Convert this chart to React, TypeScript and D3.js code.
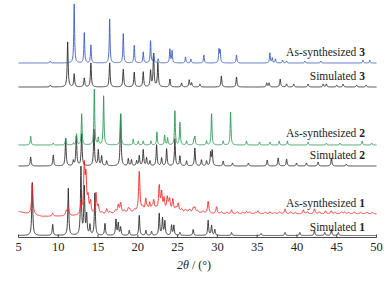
import React from "react";
import * as d3 from "d3";

// 2θ axis
const xTicks = [5, 10, 15, 20, 25, 30, 35, 40, 45, 50];

// peak lists: [2θ, intensity]
const sim1Peaks = [[6.73,54],[9.3,11],[11.26,47],[12.85,69],[13.27,48],[13.57,20],[13.98,10],[14.6,42],[15.87,12],[17.25,16],[17.54,12],[17.84,8],[18.92,5],[20.18,20],[21.02,5],[21.73,4],[22.69,22],[23.1,17],[23.4,14],[24.24,10],[24.53,10],[25.29,3],[26.96,6],[28.84,15],[29.27,10],[29.68,6],[31.78,3],[35.5,2],[38.5,3],[40.36,3],[42.2,5],[43.5,3],[44.34,6],[45.2,3]];
const as1Peaks = [[6.73,30],[9.3,3],[11.0,5],[11.26,8],[12.85,10],[13.27,47],[13.48,35],[13.75,15],[14.05,12],[14.74,21],[15.03,8],[16.08,5],[17.54,8],[17.84,10],[18.8,4],[20.18,40],[21.0,12],[21.5,8],[22.0,10],[22.69,25],[22.99,18],[23.3,12],[23.7,13],[24.0,10],[24.4,12],[25.08,8],[26.96,4],[27.17,5],[28.84,12],[29.9,7],[31.78,4],[33.66,2],[35.1,3],[36.6,2],[38.5,5],[40.8,4],[42.2,5],[43.6,3],[44.3,3],[46,2]];
const as1Minor = [[15.5,2],[16.5,2.5],[17.2,3],[18.3,2.5],[19.0,3],[19.6,2.5],[20.6,4],[21.2,3],[21.8,4],[22.3,3],[23.9,3],[24.8,4],[25.5,3],[26.0,2.5],[26.5,3],[27.5,2],[28.2,2],[30.5,2],[31.2,1.5],[32.5,2],[33.2,1.5],[34.0,2],[34.8,1.5],[36.0,2],[37.2,1.5],[37.8,2],[39.2,2],[39.8,1.5],[41.3,2],[42.8,2],[44.8,1.5],[45.6,2],[46.5,1.5],[47.2,2],[48.0,1.5],[48.8,2],[49.5,1.5]];
const as1Background = [[5,3.5],[6,1.5],[8,-1.5],[12,-1],[15,0],[20,2.5],[26,2.5],[30,1],[50,1]];
const sim2Peaks = [[6.53,9],[9.37,11],[10.93,28],[11.9,5],[12.27,30],[12.94,32],[14.49,37],[15.03,16],[15.45,10],[16.08,5],[17.84,52],[18.8,7],[19.2,6],[19.85,5],[20.18,10],[20.68,16],[21.1,8],[21.52,5],[22.36,21],[22.99,8],[23.62,17],[24.66,27],[25.29,10],[26.13,5],[27.17,18],[28.0,6],[28.64,5],[29.15,13],[29.35,15],[30.73,5],[31.9,3],[33.9,3],[36.26,6],[37.64,8],[38.7,7],[39.95,3],[41.2,3],[42.66,4],[44.34,8],[46.2,2]];
const as2Peaks = [[6.53,9],[9.37,2],[10.93,7],[11.9,2],[12.3,11],[12.94,31],[14.53,57],[15.03,7],[15.7,49],[17.84,31],[19.42,6],[20.05,4],[20.68,4],[21.65,4],[22.4,13],[23.37,10],[23.74,7],[24.66,34],[25.29,23],[26.13,4],[27.05,5],[27.17,8],[28.64,4],[29.27,32],[30.73,4],[31.66,33],[33.66,4],[35.3,3],[36.6,3],[37.77,4],[38.8,4],[41.4,3],[43.7,2],[45.4,2],[48.2,4],[49.4,2]];
const sim3Peaks = [[9.0,2],[11.18,45],[12.0,13],[13.27,9],[14.1,24],[16.46,24],[18.17,18],[19.55,15],[20.68,15],[21.6,16],[21.98,33],[22.52,24],[24.03,8],[25.5,4],[26.46,7],[26.76,4],[27.8,3],[30.5,11],[32.4,10],[36.2,4],[36.5,4],[37.9,8],[38.7,3],[39.6,3],[41.4,3],[43.3,3],[43.7,3],[45.0,2],[45.8,3],[47.5,2],[48.7,2]];
const as3Peaks = [[9.0,2],[12.0,59],[13.27,31],[14.1,18],[16.46,44],[18.17,30],[19.55,18],[20.68,11],[21.6,22],[22.0,9],[22.56,4],[24.03,14],[24.3,12],[26.0,6],[26.67,4],[28.3,8],[30.2,13],[30.35,12],[32.4,8],[36.6,10],[36.9,5],[37.3,4],[38.2,3],[38.7,2],[41.0,2],[43.0,2],[48.3,3],[49.15,3]];

// stacking offsets (intensity units)
const seriesNames = ["Simulated", "As-synthesized", "Simulated", "As-synthesized", "Simulated", "As-synthesized"];
const seriesNumbers = ["1", "1", "2", "2", "3", "3"];
const seriesOffsets = [1.5, 22, 71, 92, 150, 174];
const labelOffsets = [6, 30, 78, 100, 157, 181];
const seriesColors = ["#2b2b2b", "#ff2222", "#2b2b2b", "#2a9a55", "#2b2b2b", "#3a5cc8"];

const W = 388, H = 282;
const x = d3.scaleLinear().domain([5, 50]).range([18.5, 376.5]);
const y = d3.scaleLinear().domain([0, 236]).range([237, 1]);

function profile(peaks: number[][], fwhm: number, t: number) {
  const w = fwhm / 2;
  let s = 0;
  for (const [p, h] of peaks) {
    const d = (t - p) / w;
    s += h / (1 + d * d);
  }
  return s;
}

const grid = d3.range(5, 50.0001, 0.02);
const bgInterp = (t: number) => {
  const xs = as1Background.map((d) => d[0]);
  const ys = as1Background.map((d) => d[1]);
  return d3.scaleLinear().domain(xs).range(ys)(t);
};

function series(i: number) {
  const off = seriesOffsets[i];
  let fn: (t: number) => number;
  if (i === 0) fn = (t) => profile(sim1Peaks, 0.14, t);
  else if (i === 1) fn = (t) => bgInterp(t) + profile(as1Peaks, 0.2, t) + profile(as1Minor, 0.25, t);
  else if (i === 2) fn = (t) => profile(sim2Peaks, 0.14, t);
  else if (i === 3) fn = (t) => profile(as2Peaks, 0.12, t);
  else if (i === 4) fn = (t) => profile(sim3Peaks, 0.14, t);
  else fn = (t) => profile(as3Peaks, 0.12, t);
  return grid.map((t) => [t, off + fn(t)] as [number, number]);
}

const line = d3.line<[number, number]>().x((d) => x(d[0])).y((d) => y(d[1]));

export default function App() {
  const serif = "'Liberation Serif', 'DejaVu Serif', serif";
  const axisY = 237.5;
  return (
    <svg width={W} height={H} style={{ position: "absolute", left: 0, top: 0, background: "#fff" }}>
      {seriesOffsets.map((_, i) => (
        <path key={i} d={line(series(i)) || ""} fill="none" stroke={seriesColors[i]} strokeWidth={0.9} strokeLinejoin="round" />
      ))}
      {seriesNames.map((n, i) => (
        <text key={"l" + i} x={365} y={y(labelOffsets[i])} textAnchor="end" fontFamily={serif} fontSize={11.5} fill="#222">
          {n} <tspan fontWeight="bold">{seriesNumbers[i]}</tspan>
        </text>
      ))}
      <line x1={x(5)} x2={x(50)} y1={axisY} y2={axisY} stroke="#333" strokeWidth={0.9} />
      {xTicks.map((t) => (
        <g key={t}>
          <line x1={x(t)} x2={x(t)} y1={axisY} y2={axisY - 3} stroke="#333" strokeWidth={0.9} />
          <text x={x(t)} y={250.5} textAnchor="middle" fontFamily={serif} fontSize={12.5} fill="#222">{t}</text>
        </g>
      ))}
      <text x={194} y={268.5} textAnchor="middle" fontFamily={serif} fontSize={12} fill="#222">
        <tspan fontStyle="italic">2θ</tspan> / (°)
      </text>
    </svg>
  );
}
